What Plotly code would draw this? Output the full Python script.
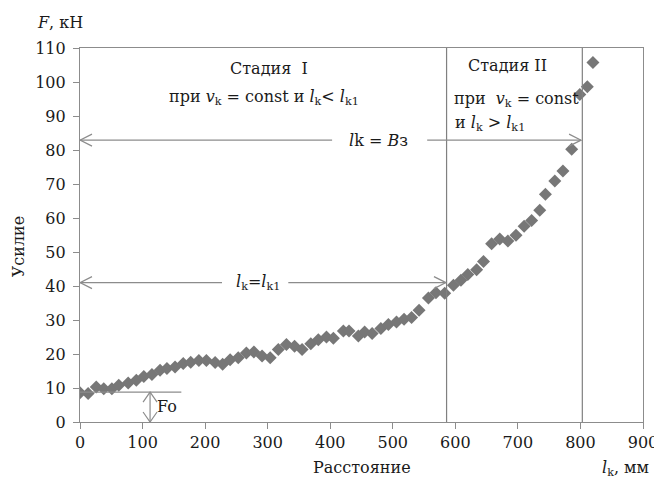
import plotly.graph_objects as go

distance_mm = [0, 13, 26, 38, 51, 62, 77, 90, 102, 115, 128, 139, 152, 165, 177, 190, 202,
               216, 228, 240, 253, 266, 278, 291, 304, 317, 330, 343, 355, 369, 381, 394,
               405, 421, 430, 445, 455, 467, 481, 493, 506, 518, 530, 542, 557, 569, 583,
               597, 609, 620, 634, 645, 658, 671, 684, 697, 710, 722, 735, 744, 759, 772,
               786, 799, 811, 820]
force_kN = [8.6, 8.4, 10.3, 9.8, 9.8, 10.8, 11.5, 12.3, 13.4, 14.0, 15.2, 15.7, 16.2, 17.2,
            17.6, 18.1, 18.1, 17.5, 17.0, 18.3, 18.9, 20.3, 20.6, 19.4, 18.9, 21.3, 22.8,
            22.3, 21.3, 23.0, 24.2, 25.0, 24.6, 26.8, 26.8, 25.3, 26.5, 26.0, 27.5, 28.7,
            29.4, 30.2, 30.7, 32.9, 36.5, 38.0, 37.9, 40.2, 41.7, 43.4, 44.8, 47.2, 52.4,
            53.8, 53.2, 54.9, 57.6, 59.3, 62.3, 67.0, 70.9, 73.8, 80.2, 96.3, 98.6, 105.7]

x_ticks = [0, 100, 200, 300, 400, 500, 600, 700, 800, 900]
y_ticks = [0, 10, 20, 30, 40, 50, 60, 70, 80, 90, 100, 110]

lk1 = 586      # end of stage I
bz = 803       # end of stage II
f_bz = 82.9    # level of arrow lk = Вз
f_lk1 = 41.0   # level of arrow lk = lk1
f0 = 8.8       # initial force
f0_x = 112
f0_line_end = 162

FONT = "DejaVu Serif"
FS = 16
AX = "#8c8c8c"
LN = "#8c8c8c"

fig = go.Figure()
fig.add_trace(go.Scatter(
    x=distance_mm, y=force_kN, mode="markers",
    marker=dict(symbol="diamond", size=10, color="#777777"),
    showlegend=False, hoverinfo="x+y"))

shapes = []
for xv in (lk1, bz):
    shapes.append(dict(type="line", x0=xv, x1=xv, y0=0, y1=110, xref="x", yref="y",
                       line=dict(color="#808080", width=1.2)))
shapes.append(dict(type="line", x0=0, x1=403, y0=f_bz, y1=f_bz, line=dict(color=LN, width=1.2)))
shapes.append(dict(type="line", x0=555, x1=bz - 2, y0=f_bz, y1=f_bz, line=dict(color=LN, width=1.2)))
shapes.append(dict(type="line", x0=0, x1=227, y0=f_lk1, y1=f_lk1, line=dict(color=LN, width=1.2)))
shapes.append(dict(type="line", x0=333, x1=lk1 - 1, y0=f_lk1, y1=f_lk1, line=dict(color=LN, width=1.2)))
shapes.append(dict(type="line", x0=0, x1=f0_line_end, y0=f0, y1=f0, line=dict(color=LN, width=1.2)))
shapes.append(dict(type="line", x0=f0_x, x1=f0_x, y0=0, y1=f0, line=dict(color=LN, width=1.2)))


def head(xa, ya, path):
    return dict(type="path", xref="x", yref="y", xsizemode="pixel", ysizemode="pixel",
                xanchor=xa, yanchor=ya, path=path, line=dict(color=LN, width=1.2))

left = "M 12,6 L 0,0 L 12,-6"
right = "M -12,6 L 0,0 L -12,-6"
up = "M -7,-10 L 0,0 L 7,-10"
down = "M -7,10 L 0,0 L 7,10"
shapes += [head(0, f_bz, left), head(bz - 2, f_bz, right),
           head(0, f_lk1, left), head(lk1 - 1, f_lk1, right),
           head(f0_x, f0, up), head(f0_x, 0, down)]

tf = dict(family=FONT, size=FS, color="#1a1a1a")
ann = [
    dict(x=302, y=104, text="Стадия  I", xanchor="center", yanchor="middle"),
    dict(x=294, y=95.5, text="при <i>v</i><sub>k</sub> = const и <i>l</i><sub>k</sub>&lt; <i>l</i><sub>k1</sub>",
         xanchor="center", yanchor="middle"),
    dict(x=477, y=f_bz, text="<i>l</i>k = <i>В</i>з", xanchor="center", yanchor="middle"),
    dict(x=284, y=f_lk1, text="<i>l</i><sub>k</sub>=<i>l</i><sub>k1</sub>", xanchor="center", yanchor="middle"),
    dict(x=683, y=105, text="Стадия II", xanchor="center", yanchor="middle"),
    dict(x=594, y=95, text="при  <i>v</i><sub>k</sub> = const", xanchor="left", yanchor="middle"),
    dict(x=596, y=87.8, text="и <i>l</i><sub>k</sub> &gt; <i>l</i><sub>k1</sub>", xanchor="left", yanchor="middle"),
    dict(x=120, y=4.6, text="Fo", xanchor="left", yanchor="middle"),
]
annotations = [dict(a, xref="x", yref="y", showarrow=False, font=tf) for a in ann]
annotations += [
    dict(x=0.5, y=-(467 - 421.7) / 374, xref="paper", yref="paper", text="Расстояние",
         showarrow=False, font=tf, xanchor="center", yanchor="middle"),
    dict(x=(625 - 80) / 563, y=-(468 - 421.7) / 374, xref="paper", yref="paper",
         text="<i>l</i><sub>k</sub>, мм", showarrow=False, font=tf, xanchor="center", yanchor="middle"),
    dict(x=-(80 - 18) / 563, y=(421.7 - 247) / 374, xref="paper", yref="paper", text="Усилие",
         showarrow=False, font=tf, textangle=-90, xanchor="center", yanchor="middle"),
    dict(x=-(80 - 35) / 563, y=1 + (47.7 - 22) / 374, xref="paper", yref="paper",
         text="<i>F</i>, кН", showarrow=False, font=tf, xanchor="left", yanchor="middle"),
]

# page body has an 8px margin: figure shrunk and margins shifted accordingly
fig.update_layout(
    width=654, height=476,
    margin=dict(l=72, r=19, t=40, b=62, autoexpand=False),
    paper_bgcolor="white", plot_bgcolor="white",
    font=dict(family=FONT, size=FS, color="#1a1a1a"),
    shapes=shapes, annotations=annotations,
    xaxis=dict(range=[0, 900], tickvals=x_ticks, ticktext=[str(v) for v in x_ticks],
               showgrid=False, zeroline=False, showline=True, linecolor=AX, linewidth=1.2,
               mirror=True, ticks="outside", ticklen=6, tickcolor=AX,
               tickfont=dict(family=FONT, size=FS, color="#1a1a1a")),
    yaxis=dict(range=[0, 110], tickvals=y_ticks, ticktext=[str(v) for v in y_ticks],
               showgrid=False, zeroline=False, showline=True, linecolor=AX, linewidth=1.2,
               mirror=True, ticks="outside", ticklen=6, tickcolor=AX, ticklabelstandoff=4,
               tickfont=dict(family=FONT, size=FS, color="#1a1a1a")),
)

fig.write_html("out.html")
